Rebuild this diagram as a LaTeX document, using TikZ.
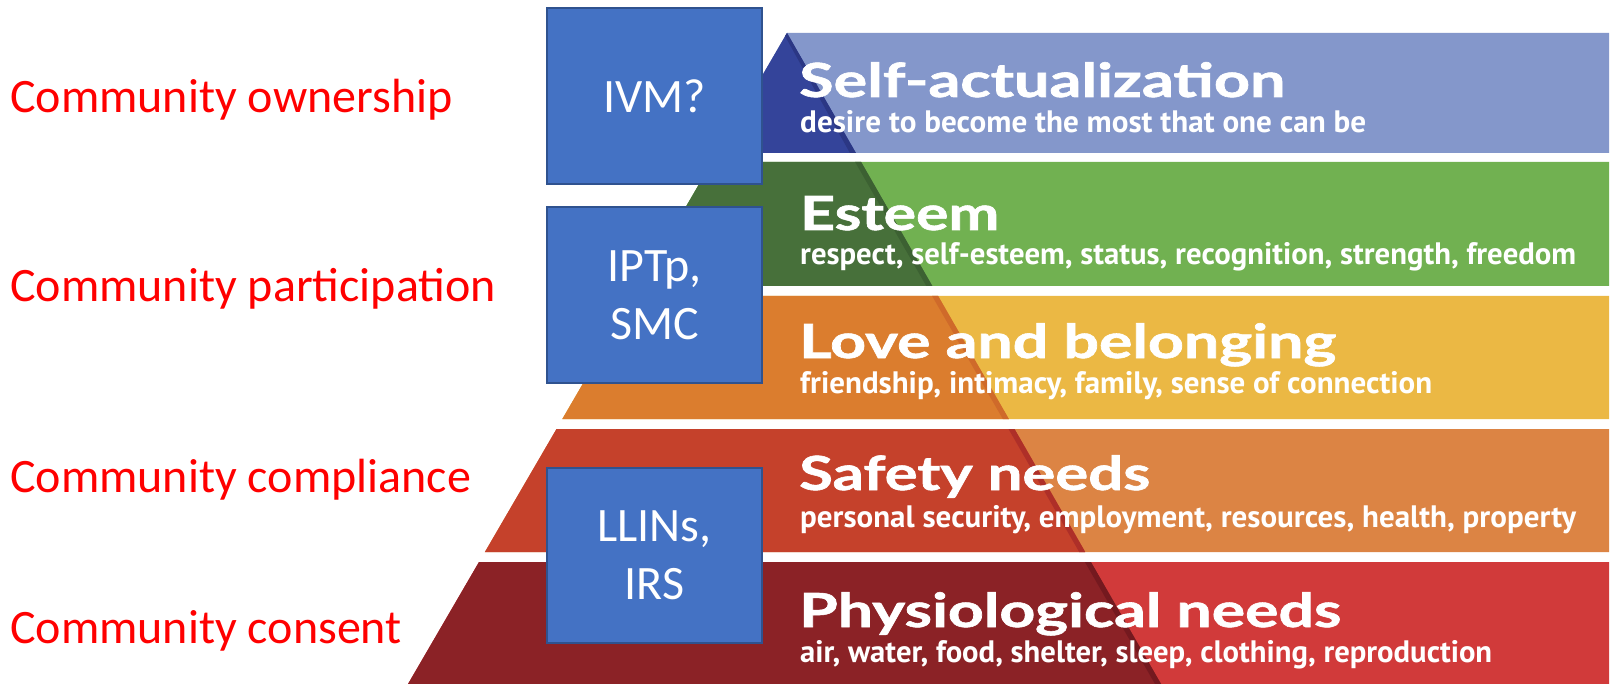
\documentclass[tikz,border=0pt]{standalone}
\usepackage{fontspec}
\usepackage{graphicx}
\setmainfont{Carlito}
\newfontfamily\titlefont{Lato}[FakeBold=1.2]
\newfontfamily\capfont{PT Sans}
\newcommand{\fitw}[2]{\resizebox{#1}{\height}{#2}}
\definecolor{boxfill}{HTML}{4472C4}
\definecolor{boxline}{HTML}{2F528F}
\definecolor{saL}{HTML}{8497CB}\definecolor{saD}{HTML}{34449A}\definecolor{saR}{HTML}{2B3784}
\definecolor{esL}{HTML}{71B151}\definecolor{esD}{HTML}{47703A}\definecolor{esR}{HTML}{3C6132}
\definecolor{loL}{HTML}{EBB844}\definecolor{loD}{HTML}{DB7D2E}\definecolor{loR}{HTML}{CF6A2A}
\definecolor{sfL}{HTML}{DC8444}\definecolor{sfD}{HTML}{C5412B}\definecolor{sfR}{HTML}{AE2F28}
\definecolor{phL}{HTML}{D13A3A}\definecolor{phD}{HTML}{8B2226}\definecolor{phR}{HTML}{74191F}
\tikzset{
  leftlabel/.style={anchor=base west, inner sep=0pt, text=red, font=\fontsize{48}{58}\selectfont},
  bluebox/.style={draw=boxline, line width=1.8pt, fill=boxfill, text=white, inner sep=0pt,
    minimum width=215pt, align=center, font=\fontsize{48}{58}\selectfont},
  title/.style={anchor=base west, inner sep=0pt, text=white, font=\titlefont\bfseries\fontsize{47}{52}\selectfont},
  caption/.style={anchor=base west, inner sep=0pt, text=white, font=\capfont\bfseries\fontsize{31}{34}\selectfont}
}
\begin{document}
\begin{tikzpicture}[x=1pt,y=-1pt]
\useasboundingbox (0,0) rectangle (1611,684);
\fill[white] (0,0) rectangle (1611,684);
% Self-actualization
\fill[saL] (787,33) -- (1609,33) -- (1609,153) -- (717.1,153) -- cycle;
\fill[saD] (787,33) -- (855.9,153) -- (717.1,153) -- cycle;
\fill[saR] (787,33) -- (855.9,153) -- (849.9,153) -- (785,36) -- cycle;
% Esteem
\fill[esL] (711.9,162) -- (1609,162) -- (1609,286) -- (639.7,286) -- cycle;
\fill[esD] (711.9,162) -- (861.1,162) -- (932.3,286) -- (639.7,286) -- cycle;
\fill[esR] (855.1,162) -- (861.1,162) -- (932.3,286) -- (926.3,286) -- cycle;
% Love and belonging
\fill[loL] (633.9,296) -- (1609,296) -- (1609,419) -- (562.3,419) -- cycle;
\fill[loD] (633.9,296) -- (938.1,296) -- (1008.8,419) -- (562.3,419) -- cycle;
\fill[loR] (932.1,296) -- (938.1,296) -- (1008.8,419) -- (1002.8,419) -- cycle;
% Safety
\fill[sfL] (556.5,429) -- (1609,429) -- (1609,552) -- (484.9,552) -- cycle;
\fill[sfD] (556.5,429) -- (1014.5,429) -- (1085.2,552) -- (484.9,552) -- cycle;
\fill[sfR] (1008.5,429) -- (1014.5,429) -- (1085.2,552) -- (1079.2,552) -- cycle;
% Physiological
\fill[phL] (479.0,562) -- (1609,562) -- (1609,684) -- (408,684) -- cycle;
\fill[phD] (479.0,562) -- (1090.9,562) -- (1161,684) -- (408,684) -- cycle;
\fill[phR] (1084.9,562) -- (1090.9,562) -- (1161,684) -- (1155,684) -- cycle;
% titles and captions
\node[title] (t1) at (799,97) {\fitw{486pt}{Self-actualization}};
\node[caption] (c1) at (800,133) {\fitw{566pt}{desire to become the most that one can be}};
\node[title] (t2) at (800,230) {\fitw{199pt}{Esteem}};
\node[caption] (c2) at (800,265) {\fitw{776pt}{respect, self-esteem, status, recognition, strength, freedom}};
\node[title] (t3) at (799,358) {\fitw{537pt}{Love and belonging}};
\node[caption] (c3) at (800,393) {\fitw{632pt}{friendship, intimacy, family, sense of connection}};
\node[title] (t4) at (799,490) {\fitw{351pt}{Safety needs}};
\node[caption] (c4) at (800,527) {\fitw{776pt}{personal security, employment, resources, health, property}};
\node[title] (t5) at (799,627) {\fitw{542pt}{Physiological needs}};
\node[caption] (c5) at (800,662) {\fitw{692pt}{air, water, food, shelter, sleep, clothing, reproduction}};
% blue boxes
\node[bluebox, minimum height=176pt] (ivm) at (654.5,96) {IVM?};
\node[bluebox, minimum height=176pt] (iptp) at (654.5,295) {IPTp,\\SMC};
\node[bluebox, minimum height=175pt] (llin) at (654.5,555.5) {LLINs,\\IRS};
% left labels
\node[leftlabel] (own) at (10,113) {Community ownership};
\node[leftlabel] (par) at (10,302) {Community participation};
\node[leftlabel] (com) at (10,492) {Community compliance};
\node[leftlabel] (con) at (10,643) {Community consent};
\end{tikzpicture}
\end{document}
